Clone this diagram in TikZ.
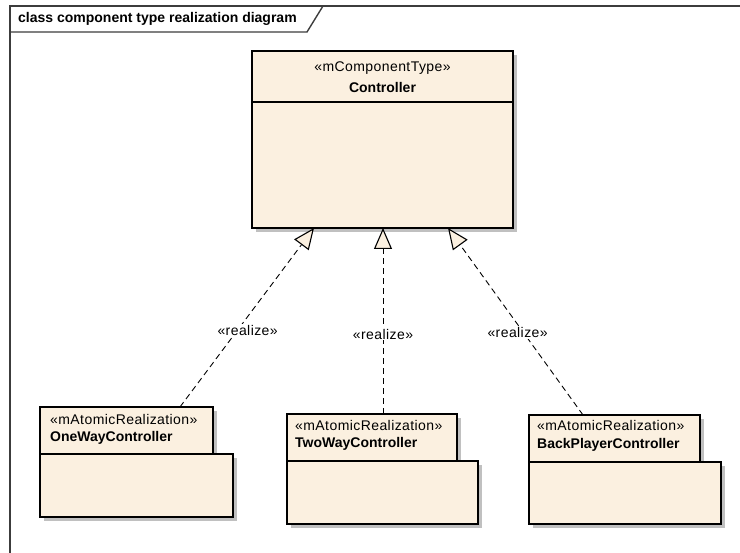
\documentclass[tikz,border=0pt]{standalone}
\usepackage{fontspec}
\setmainfont{Liberation Sans}
\newfontfamily\stereofont[LetterSpace=3]{Liberation Sans}
\usetikzlibrary{arrows.meta,shadows}
\definecolor{classfill}{RGB}{251,240,224}
\definecolor{shadowgray}{RGB}{192,192,192}
\definecolor{framegray}{RGB}{60,60,60}

\begin{document}
\begin{tikzpicture}[x=1pt,y=-1pt,
  box/.style={draw=black, line width=1.2pt, fill=classfill, anchor=north west,
    inner sep=0pt, outer sep=0pt,
    drop shadow={shadow xshift=4pt, shadow yshift=-4pt, fill=shadowgray, opacity=1}},
  txt/.style={inner sep=0pt, font=\stereofont\fontsize{14}{16}\selectfont},
  nametxt/.style={inner sep=0pt, font=\fontsize{14}{16}\selectfont\bfseries},
  realize/.style={line width=0.9pt, dash pattern=on 6pt off 4pt,
    -{Triangle[length=21pt, width=18pt, fill=classfill, line width=1.1pt]}},
  lbl/.style={txt, fill=white, inner sep=1pt}
]
\useasboundingbox (0,0) rectangle (740,553);

% diagram frame with its title tab
\draw[framegray, line width=1.4pt] (10,553) -- (10,6) -- (740,6);
\draw[framegray, line width=1.4pt] (10,32) -- (307,32) -- (323,6);
\node[nametxt, anchor=west] (title) at (18,19) {class component type realization diagram};

% component type
\node[box, minimum width=261pt, minimum height=177pt] (ctrl) at (252,51) {};
\draw[line width=1.2pt] ([yshift=-51pt]ctrl.north west) -- ([yshift=-51pt]ctrl.north east);
\node[txt] (ctrlst) at ([yshift=-17pt]ctrl.north) {«mComponentType»};
\node[nametxt] (ctrlname) at ([yshift=-36pt]ctrl.north) {Controller};

% atomic realizations: name tab above body
\node[box, minimum width=173pt, minimum height=47pt] (owtab) at (40,407) {};
\node[box, minimum width=193pt, minimum height=63pt] (owbody) at (40,454) {};
\node[txt, anchor=west] (owst) at ([xshift=10pt,yshift=-12pt]owtab.north west) {«mAtomicRealization»};
\node[nametxt, anchor=west] (owname) at ([xshift=10pt,yshift=-31pt]owtab.north west) {OneWayController};

\node[box, minimum width=170pt, minimum height=47pt] (twtab) at (287,414) {};
\node[box, minimum width=191pt, minimum height=63pt] (twbody) at (287,461) {};
\node[txt, anchor=west] (twst) at ([xshift=8pt,yshift=-11pt]twtab.north west) {«mAtomicRealization»};
\node[nametxt, anchor=west] (twname) at ([xshift=8pt,yshift=-30pt]twtab.north west) {TwoWayController};

\node[box, minimum width=171pt, minimum height=47pt] (bptab) at (529,415) {};
\node[box, minimum width=192pt, minimum height=62pt] (bpbody) at (529,462) {};
\node[txt, anchor=west] (bpst) at ([xshift=8pt,yshift=-10pt]bptab.north west) {«mAtomicRealization»};
\node[nametxt, anchor=west] (bpname) at ([xshift=8pt,yshift=-30pt]bptab.north west) {BackPlayerController};

% realization connectors
\draw[realize] ([xshift=140pt]owtab.north west) -- ([xshift=62pt]ctrl.south west)
  node[lbl, pos=0.43, xshift=10pt] (r1) {«realize»};
\draw[realize] ([xshift=96pt]twtab.north west) -- ([xshift=131pt]ctrl.south west)
  node[lbl, pos=0.43] (r2) {«realize»};
\draw[realize] ([xshift=54pt]bptab.north west) -- ([xshift=196pt]ctrl.south west)
  node[lbl, pos=0.44, xshift=-6pt] (r3) {«realize»};
\end{tikzpicture}
\end{document}
